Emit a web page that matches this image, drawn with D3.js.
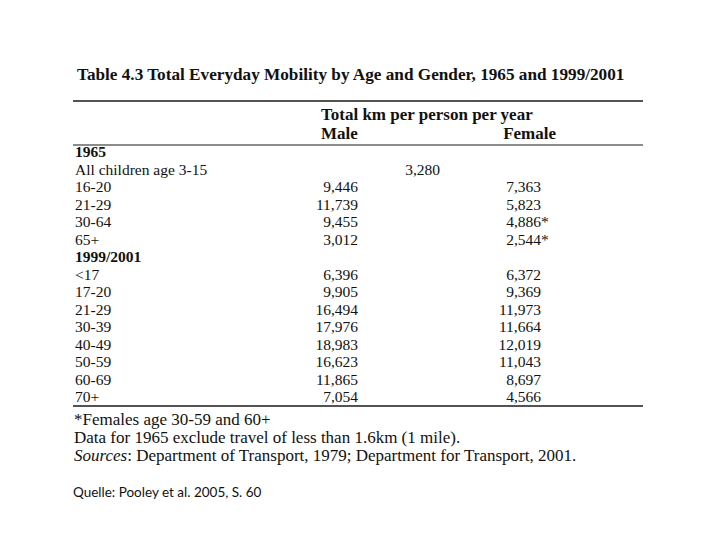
<!DOCTYPE html>
<html>
<head>
<meta charset="utf-8">
<script src="https://cdn.jsdelivr.net/npm/d3@7"></script>
<style>
  body { margin: 0; background: #fff; }
  svg { display: block; }
  text { font-family: "Liberation Serif", "Times New Roman", serif; fill: #111; }
</style>
</head>
<body>
<svg id="chart" width="720" height="540"></svg>
<script>
// table contents
const title = "Table 4.3 Total Everyday Mobility by Age and Gender, 1965 and 1999/2001";
const unitLabel = "Total km per person per year";
const columns = ["Male", "Female"];

const ages1965 = ["16-20", "21-29", "30-64", "65+"];
const male1965 = [9446, 11739, 9455, 3012];
const female1965 = [7363, 5823, 4886, 2544];
const starred1965 = [false, false, true, true];
const childrenLabel = "All children age 3-15";
const children1965 = 3280;

const ages2001 = ["<17", "17-20", "21-29", "30-39", "40-49", "50-59", "60-69", "70+"];
const male2001 = [6396, 9905, 16494, 17976, 18983, 16623, 11865, 7054];
const female2001 = [6372, 9369, 11973, 11664, 12019, 11043, 8697, 4566];

const notes = [
  "*Females age 30-59 and 60+",
  "Data for 1965 exclude travel of less than 1.6km (1 mile)."
];
const sourceText = "Department of Transport, 1979; Department for Transport, 2001.";
const quelle = "Quelle: Pooley et al. 2005, S. 60";

// build rows
const rows = [];
rows.push({ label: "1965", bold: true });
rows.push({ label: childrenLabel, both: children1965 });
ages1965.forEach((a, i) => rows.push({ label: a, male: male1965[i], female: female1965[i], star: starred1965[i] }));
rows.push({ label: "1999/2001", bold: true });
ages2001.forEach((a, i) => rows.push({ label: a, male: male2001[i], female: female2001[i] }));

const svg = d3.select("#chart");
const fmt = d3.format(",");

const y = d3.scalePoint()
  .domain(d3.range(rows.length))
  .range([152, 397]);

// right edges of the number columns
const x = d3.scaleOrdinal()
  .domain(["label", "Male", "both", "Female"])
  .range([75, 358, 440, 541]);

const left = 73, right = 643;

svg.append("text")
  .attr("x", 77).attr("y", 80)
  .attr("font-size", 17.2).attr("font-weight", "bold")
  .text(title);

// rules
[[101, 1.7], [145, 1.2], [406, 1.6]].forEach(([ly, w]) => {
  svg.append("line")
    .attr("x1", left).attr("x2", right)
    .attr("y1", ly).attr("y2", ly)
    .attr("stroke", "#1a1a1a").attr("stroke-width", w);
});

svg.append("text")
  .attr("x", 321).attr("y", 120)
  .attr("font-size", 17).attr("font-weight", "bold")
  .text(unitLabel);

svg.append("text")
  .attr("x", 321).attr("y", 139)
  .attr("font-size", 17).attr("font-weight", "bold")
  .text(columns[0]);

svg.append("text")
  .attr("x", 556).attr("y", 139)
  .attr("text-anchor", "end")
  .attr("font-size", 17).attr("font-weight", "bold")
  .text(columns[1]);

const row = svg.append("g")
  .selectAll("g")
  .data(rows)
  .enter()
  .append("g")
  .attr("transform", (d, i) => `translate(0,${y(i)})`);

row.append("text")
  .attr("x", x("label"))
  .attr("dy", "0.35em")
  .attr("font-size", 15.5)
  .attr("font-weight", d => d.bold ? "bold" : null)
  .text(d => d.label);

row.filter(d => d.both != null)
  .append("text")
  .attr("x", x("both"))
  .attr("dy", "0.35em")
  .attr("text-anchor", "end")
  .attr("font-size", 15.5)
  .text(d => fmt(d.both));

row.filter(d => d.male != null)
  .append("text")
  .attr("x", x("Male"))
  .attr("dy", "0.35em")
  .attr("text-anchor", "end")
  .attr("font-size", 15.5)
  .text(d => fmt(d.male));

row.filter(d => d.female != null)
  .append("text")
  .attr("x", x("Female"))
  .attr("dy", "0.35em")
  .attr("text-anchor", "end")
  .attr("font-size", 15.5)
  .text(d => fmt(d.female));

row.filter(d => d.star)
  .append("text")
  .attr("x", x("Female"))
  .attr("dy", "0.35em")
  .attr("font-size", 15.5)
  .text("*");

// footnotes
notes.forEach((n, i) => {
  svg.append("text")
    .attr("x", 74).attr("y", 425 + i * 18)
    .attr("font-size", 17)
    .text(n);
});

const src = svg.append("text")
  .attr("x", 74).attr("y", 461)
  .attr("font-size", 17);
src.append("tspan").attr("font-style", "italic").text("Sources");
src.append("tspan").text(": " + sourceText);

svg.append("text")
  .attr("x", 73).attr("y", 497)
  .attr("font-size", 13.5)
  .style("font-family", "Lato, 'Open Sans', sans-serif")
  .text(quelle);
</script>
</body>
</html>
